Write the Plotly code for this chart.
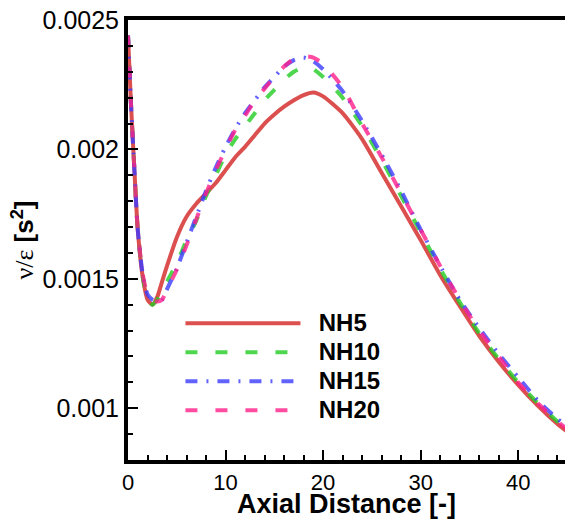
import plotly.graph_objects as go

axial = [0, 0.3, 0.6, 1.0, 1.5, 2.0, 2.5, 3.0, 3.5, 4, 5, 6, 7, 8, 9, 10, 11, 12, 13, 14, 15,
         16, 17, 18, 19, 20, 22, 24, 26, 28, 30, 32, 34, 36, 38, 40, 42, 44, 45]

nh5 = [0.00244, 0.00218, 0.00196, 0.00169, 0.00151, 0.00142, 0.00140, 0.00143, 0.00149, 0.00155,
       0.00166, 0.00174, 0.00179, 0.00183, 0.00187, 0.00192, 0.00197, 0.00201, 0.002055, 0.0021,
       0.002135, 0.002165, 0.00219, 0.00221, 0.00222, 0.002205, 0.00214, 0.00204, 0.00191, 0.00178,
       0.00165, 0.001515, 0.001395, 0.00128, 0.00118, 0.00109, 0.00101, 0.00094, 0.00091]

nh10 = [0.00244, 0.00218, 0.00196, 0.00169, 0.00151, 0.00142, 0.00140, 0.00142, 0.001455, 0.00149,
        0.00156, 0.00165, 0.001725, 0.00182, 0.0019, 0.00198, 0.00204, 0.00209, 0.00214, 0.00219,
        0.00223, 0.00227, 0.0023, 0.002318, 0.00231, 0.00228, 0.0022, 0.00209, 0.00196, 0.00182,
        0.00168, 0.00154, 0.00141, 0.00129, 0.00119, 0.0011, 0.00102, 0.00095, 0.00092]

nh15 = [0.00244, 0.00218, 0.00196, 0.00169, 0.00152, 0.00144, 0.00142, 0.001412, 0.00142, 0.00146,
        0.00154, 0.00164, 0.00174, 0.00184, 0.00193, 0.00201, 0.00208, 0.00214, 0.00219, 0.00224,
        0.00228, 0.00232, 0.002345, 0.002355, 0.00234, 0.00231, 0.002225, 0.00211, 0.00198, 0.00184,
        0.00169, 0.00155, 0.00142, 0.00131, 0.00121, 0.00112, 0.00103, 0.00096, 0.00093]

nh20 = [0.00244, 0.00218, 0.00196, 0.00169, 0.00152, 0.00144, 0.00142, 0.001412, 0.00142, 0.00146,
        0.001535, 0.00163, 0.00173, 0.00183, 0.00192, 0.002, 0.002075, 0.00213, 0.00219, 0.002235,
        0.00228, 0.00232, 0.00235, 0.00236, 0.002355, 0.00233, 0.00224, 0.0021, 0.00197, 0.00183,
        0.00169, 0.00155, 0.00142, 0.0013, 0.0012, 0.0011, 0.00102, 0.00095, 0.00092]

series_names = ["NH5", "NH10", "NH15", "NH20"]
y_tickvals = [0.001, 0.0015, 0.002, 0.0025]
y_ticktext = ["0.001", "0.0015", "0.002", "0.0025"]
x_tickvals = [0, 10, 20, 30, 40]

styles = [
    dict(color="#d42424", dash="solid"),
    dict(color="#22cc22", dash="12px,18px"),
    dict(color="#3b3bff", dash="12px,9px,2px,9px"),
    dict(color="#ff1f8a", dash="12px,18px"),
]

fig = go.Figure()
for name, ys, st in zip(series_names, [nh5, nh10, nh15, nh20], styles):
    fig.add_trace(go.Scatter(
        x=axial, y=ys, name="<span style='font-size:24px'>&nbsp;&nbsp;" + name + "</span>",
        mode="lines",
        line=dict(color=st["color"], dash=st["dash"], width=4, shape="spline", smoothing=0.6),
        opacity=0.8,
    ))

fig.update_layout(
    width=565, height=519,
    margin=dict(l=128, r=0, t=20, b=59),
    plot_bgcolor="white", paper_bgcolor="white",
    font=dict(family="Liberation Sans, Arial", color="black", size=24),
    showlegend=True,
    legend=dict(
        x=0.12, y=0.355, xanchor="left", yanchor="top",
        bgcolor="rgba(0,0,0,0)",
        font=dict(family="Liberation Sans, Arial", size=20, color="black", weight="bold"),
        itemwidth=115, tracegroupgap=0,
    ),
    xaxis=dict(
        range=[0, 44.8], showgrid=False, zeroline=False, automargin=False,
        showline=True, linecolor="black", linewidth=4, mirror=True,
        ticks="inside", ticklen=10, tickwidth=2, tickcolor="black",
        tickvals=x_tickvals,
        minor=dict(dtick=2, ticks="inside", ticklen=5, tickwidth=1.5, tickcolor="black"),
        tickfont=dict(size=22, family="Liberation Sans, Arial", color="black"),
        title=dict(text="<b>Axial Distance [-]</b>", font=dict(size=27), standoff=4),
    ),
    yaxis=dict(
        range=[0.0008, 0.0025], showgrid=False, zeroline=False, automargin=False,
        showline=True, linecolor="black", linewidth=4, mirror=False,
        ticks="inside", ticklen=10, tickwidth=2, tickcolor="black",
        tickvals=y_tickvals, ticktext=y_ticktext,
        minor=dict(dtick=0.0001, tick0=0.0008, ticks="inside", ticklen=5, tickwidth=1.5, tickcolor="black"),
        tickfont=dict(size=25, family="Liberation Sans, Arial", color="black"),
        title=dict(text="<span style='font-family:Liberation Serif'>ν/ε</span> <b>[s<sup>2</sup>]</b>",
                   font=dict(size=26), standoff=2),
    ),
)

fig.write_html("out.html")
